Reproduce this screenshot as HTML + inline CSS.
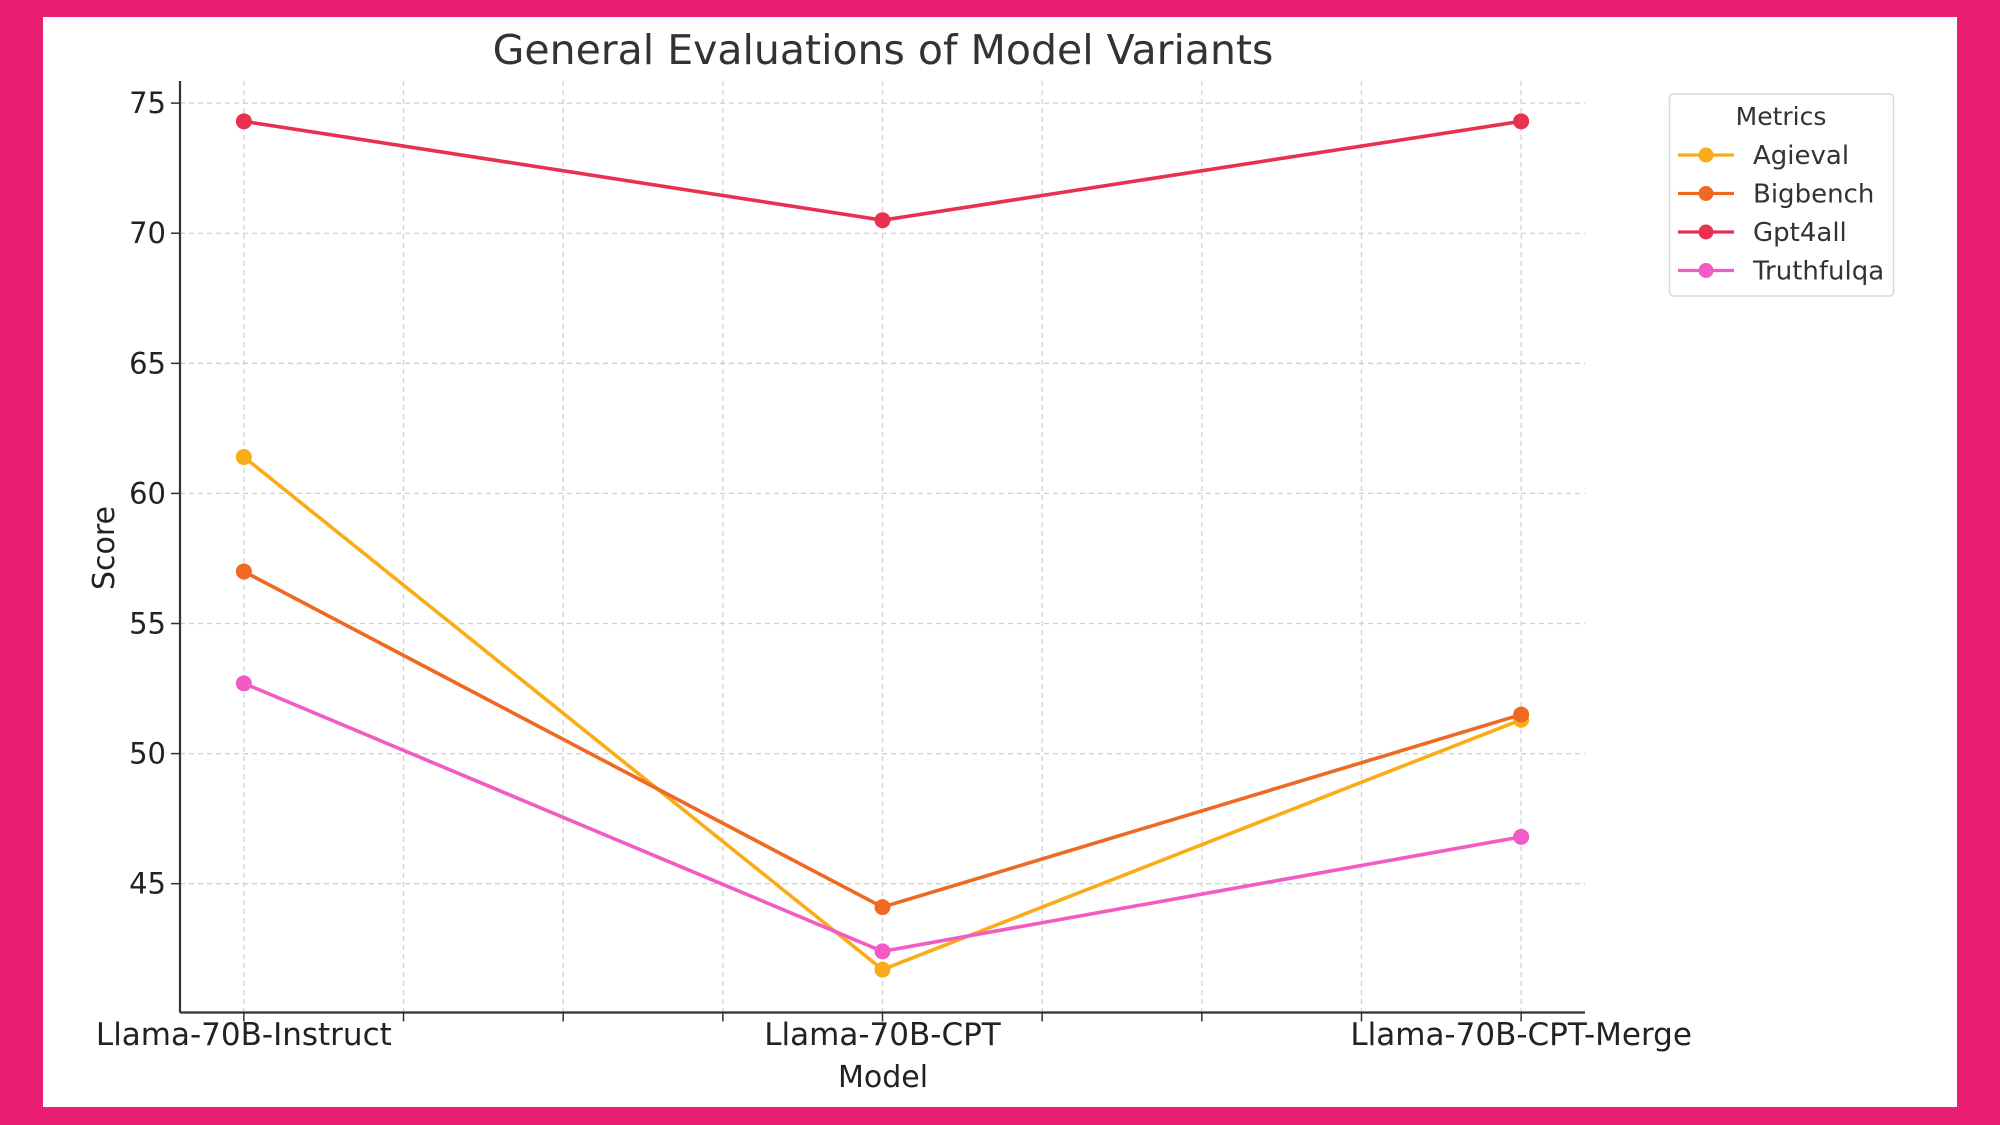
<!DOCTYPE html>
<html><head><meta charset="utf-8"><style>
html,body{margin:0;padding:0;}
body{width:2000px;height:1125px;background:#E91E73;position:relative;overflow:hidden;font-family:"DejaVu Sans","Liberation Sans",sans-serif;}
#panel{position:absolute;left:43px;top:17px;width:1914px;height:1090px;background:#fff;}
svg{position:absolute;left:0;top:0;}
</style></head><body>
<div id="panel"></div>
<svg id="chart" width="2000" height="1125"></svg>
<script>
const categories = ["Llama-70B-Instruct","Llama-70B-CPT","Llama-70B-CPT-Merge"];
const seriesNames = ["Agieval","Bigbench","Gpt4all","Truthfulqa"];
const agieval = [61.4, 41.7, 51.3];
const bigbench = [57.0, 44.1, 51.5];
const gpt4all = [74.3, 70.5, 74.3];
const truthfulqa = [52.7, 42.4, 46.8];
const yTicks = [45, 50, 55, 60, 65, 70, 75];
const xGrid = [0, 0.25, 0.5, 0.75, 1, 1.25, 1.5, 1.75, 2];

const colors = ["#F9AC16","#EE6A22","#E8304F","#F25AC4"];
const seriesData = [agieval, bigbench, gpt4all, truthfulqa];
const L=180, R=1585, T=81, B=1012.5;
const xMin=-0.1, xMax=2.1, yMin=40.05, yMax=75.85;
const xs = v => L + (v - xMin) / (xMax - xMin) * (R - L);
const ys = v => B - (v - yMin) / (yMax - yMin) * (B - T);
const svg = document.getElementById('chart');
const NS = "http://www.w3.org/2000/svg";
function mk(tag, attrs, parent){ const e=document.createElementNS(NS,tag); for(const k in attrs) e.setAttribute(k,attrs[k]); (parent||svg).appendChild(e); return e; }

xGrid.forEach(g=>{
  const l=mk('line',{x1:xs(g),x2:xs(g),y1:T,y2:B,stroke:'#d0d0d0','stroke-width':1.3,'stroke-dasharray':'5,4'});
  
  
  const t=mk('line',{x1:xs(g),x2:xs(g),y1:B,y2:B+9,stroke:'#333','stroke-width':1.5});
  
  
});
yTicks.forEach(v=>{
  const l=mk('line',{x1:L,x2:R,y1:ys(v),y2:ys(v),stroke:'#d0d0d0','stroke-width':1.3,'stroke-dasharray':'5,4'});
  
  
  const t=mk('line',{x1:L-9,x2:L,y1:ys(v),y2:ys(v),stroke:'#333','stroke-width':1.5});
  
  
  const tx=mk('text',{x:L-14,y:ys(v)+10,'text-anchor':'end','font-size':29,fill:'#222'});
  tx.textContent=v;
  
  
});
const ax1=mk('line',{x1:L,x2:L,y1:T,y2:B,stroke:'#333','stroke-width':2.2});


const ax2=mk('line',{x1:L,x2:R,y1:B,y2:B,stroke:'#333','stroke-width':2.2});



categories.forEach((c,i)=>{
  const t=mk('text',{x:xs(i),y:1045,'text-anchor':'middle','font-size':31,fill:'#222'});
  t.textContent=c;
  
  
});

seriesData.forEach((d,si)=>{
  const g=mk('g',{});
  
  
  const pts=d.map((v,i)=>xs(i)+','+ys(v)).join(' ');
  const pl=mk('polyline',{points:pts,fill:'none',stroke:colors[si],'stroke-width':3.6},g);
  
  
  d.forEach((v,i)=>{
    const c=mk('circle',{cx:xs(i),cy:ys(v),r:8,fill:colors[si]},g);
    
    
  });
});

const title=mk('text',{x:883,y:64,'text-anchor':'middle','font-size':41,fill:'#333'});
title.textContent='General Evaluations of Model Variants';


const xl=mk('text',{x:883,y:1087,'text-anchor':'middle','font-size':30,fill:'#222'});
xl.textContent='Model';


const yl=mk('text',{x:0,y:0,'text-anchor':'middle','font-size':30,fill:'#222',transform:'translate(114,548) rotate(-90)'});
yl.textContent='Score';



const lg=mk('g',{});


mk('rect',{x:1669.5,y:94,width:224,height:202,rx:4,fill:'#fff',stroke:'#d8d8d8','stroke-width':1.5},lg);
const lt=mk('text',{x:1781,y:125,'text-anchor':'middle','font-size':25,fill:'#333'},lg);
lt.textContent='Metrics';


seriesNames.forEach((n,i)=>{
  const y=155+i*38.5;
  const e=mk('g',{},lg);
  
  
  mk('line',{x1:1678,x2:1734,y1:y,y2:y,stroke:colors[i],'stroke-width':3.3},e);
  mk('circle',{cx:1706,cy:y,r:7.5,fill:colors[i]},e);
  const t=mk('text',{x:1753,y:y+9,'font-size':26,fill:'#333'},e);
  t.textContent=n;
});
</script>
</body></html>
